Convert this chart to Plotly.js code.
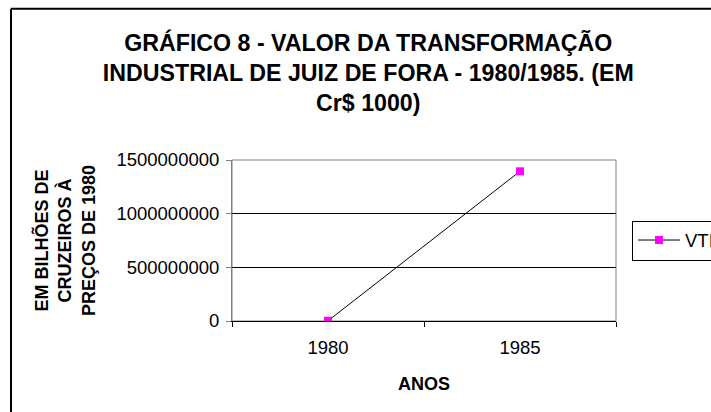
<!DOCTYPE html>
<html>
<head>
<meta charset="utf-8">
<script src="https://cdn.plot.ly/plotly-3.0.1.min.js"></script>
<style>
  html, body { margin: 0; padding: 0; background: #fff; }
  #chart { width: 711px; height: 412px; }
</style>
</head>
<body>
<div id="chart"></div>
<script>
// VTI — Juiz de Fora, 1980/1985
const years = ['1980', '1985'];
const vti = [2000000, 1395000000];
const yTicks = [0, 500000000, 1000000000, 1500000000];

const FONT = 'Arial, "Liberation Sans", sans-serif';

const trace = {
  x: years,
  y: vti,
  name: 'VTI',
  type: 'scatter',
  mode: 'lines+markers',
  line: { color: '#000', width: 1 },
  marker: { symbol: 'square', size: 8, color: '#ff00ff' },
};

const layout = {
  width: 711,
  height: 412,
  paper_bgcolor: '#fff',
  plot_bgcolor: '#fff',
  margin: { l: 232, r: 95, t: 160, b: 91, autoexpand: false },
  font: { family: FONT, size: 18, color: '#000' },
  title: {
    text: 'GRÁFICO 8 - VALOR DA TRANSFORMAÇÃO<br>INDUSTRIAL DE JUIZ DE FORA - 1980/1985. (EM<br>Cr$ 1000)',
    font: { family: FONT, size: 23.2, color: '#000', weight: 'bold' },
    x: 0.518, xanchor: 'center',
    y: 0.877, yanchor: 'top',
  },
  xaxis: {
    type: 'category',
    range: [-0.5, 1.5],
    tickson: 'boundaries',
    ticks: 'outside', ticklen: 5, tickcolor: '#000',
    ticklabelstandoff: 10,
    showline: true, linecolor: '#000', linewidth: 1,
    showgrid: false, zeroline: false,
    tickfont: { size: 18.5 },
    title: { text: 'ANOS', font: { size: 18, weight: 'bold' }, standoff: 20 },
    fixedrange: true,
  },
  yaxis: {
    range: [0, 1500000000],
    tickvals: yTicks,
    tickformat: 'd',
    ticks: 'outside', ticklen: 5, tickcolor: '#808080',
    ticklabelstandoff: 3,
    showline: true, linecolor: '#808080', linewidth: 1,
    showgrid: true, gridcolor: '#000', gridwidth: 1,
    zeroline: false,
    tickfont: { size: 18.5 },
    title: { text: 'EM BILHÕES DE<br>CRUZEIROS À<br>PREÇOS DE 1980', font: { size: 18, weight: 'bold' }, standoff: 16 },
    fixedrange: true,
  },
  showlegend: true,
  legend: {
    x: 1.0417, xanchor: 'left',
    y: 0.5, yanchor: 'middle',
    bordercolor: '#000', borderwidth: 1,
    bgcolor: '#fff',
    itemwidth: 42,
    font: { size: 18.5 },
  },
  shapes: [
    // plot area frame (top / right in gray)
    { type: 'rect', xref: 'paper', yref: 'paper', x0: 0, x1: 1, y0: 0, y1: 1,
      line: { color: '#808080', width: 1 }, layer: 'below' },
    // outer chart border, running past the window edge
    { type: 'line', xref: 'paper', yref: 'paper', x0: -0.5755, x1: -0.5755, y0: -1, y1: 1.94,
      line: { color: '#000', width: 2 } },
    { type: 'line', xref: 'paper', yref: 'paper', x0: -0.5755, x1: 1.5, y0: 1.94, y1: 1.94,
      line: { color: '#000', width: 2 } },
  ],
};

Plotly.newPlot('chart', [trace], layout, { displayModeBar: false, staticPlot: true });
</script>
</body>
</html>
